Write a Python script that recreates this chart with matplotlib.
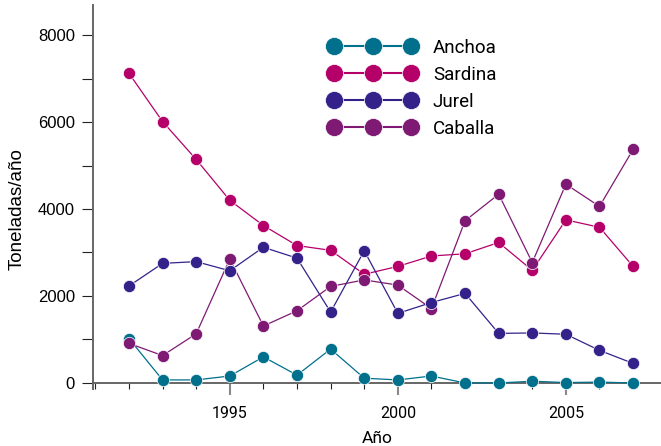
import numpy as np
import matplotlib
matplotlib.use('Agg')
import matplotlib.pyplot as plt
from matplotlib.ticker import MultipleLocator

# data (toneladas / año)
years = list(range(1992, 2008))
anchoa = [1020, 70, 70, 160, 600, 180, 780, 110, 70, 160, 0, 0, 40, 10, 20, 0]
sardina = [7120, 6010, 5140, 4200, 3620, 3160, 3050, 2500, 2680, 2920, 2970, 3230, 2590, 3750, 3580, 2680]
jurel = [2230, 2750, 2790, 2580, 3120, 2870, 1630, 3040, 1600, 1850, 2060, 1140, 1150, 1120, 750, 450]
caballa = [910, 630, 1130, 2850, 1310, 1660, 2220, 2370, 2250, 1710, 3730, 4340, 2770, 4570, 4060, 5370]

names = ['Anchoa', 'Sardina', 'Jurel', 'Caballa']
colors = ['#00708c', '#b5006a', '#34228a', '#7e1a74']
series = [anchoa, sardina, jurel, caballa]
zorders = [3, 4, 6, 5]

plt.rcParams['font.family'] = ['Liberation Sans', 'DejaVu Sans']

fig = plt.figure(figsize=(6.61, 4.46), dpi=100)
ax = fig.add_axes([0.1407, 0.1267, 0.8593, 0.862])

for name, vals, c, z in zip(names, series, colors, zorders):
    ax.plot(years, vals, color=c, lw=0.9, marker='o', ms=8.8,
            mfc=c, mec='white', mew=0.5, label=name, zorder=z)

ax.set_xlim(1990.93, 2007.83)
ax.set_ylim(-150, 8690)

# axis styling
for s in ['top', 'right']:
    ax.spines[s].set_visible(False)
ax.spines['bottom'].set_position(('data', 0))
ax.spines['bottom'].set_color('#666666')
ax.spines['left'].set_color('#666666')
ax.spines['bottom'].set_linewidth(1.4)
ax.spines['left'].set_linewidth(1.4)

ax.xaxis.set_major_locator(MultipleLocator(5))
ax.xaxis.set_minor_locator(MultipleLocator(1))
ax.yaxis.set_major_locator(MultipleLocator(2000))
ax.yaxis.set_minor_locator(MultipleLocator(1000))

ax.tick_params(axis='x', which='major', length=8.6, width=1.5, color='#888888',
               labelsize=11.5, pad=8)
ax.tick_params(axis='x', which='minor', length=4.3, width=0.8, color='#222222')
ax.tick_params(axis='y', which='both', length=8, width=0.8, color='#222222',
               labelsize=12, pad=5)
for lab in ax.get_xticklabels():
    lab.set_family(['Roboto', 'DejaVu Sans'])

ax.set_xlabel('Año', fontsize=12.5, family=['Roboto', 'DejaVu Sans'], labelpad=7)
ax.set_ylabel('Toneladas/año', fontsize=13.5)
ax.yaxis.set_label_coords(-0.118, (4000 + 150) / 8840)

leg = ax.legend(loc='upper left', bbox_to_anchor=(0.384, 0.956), frameon=False,
                numpoints=3, markerscale=1.48, handlelength=4.75,
                handletextpad=0.85, labelspacing=0.48,
                prop={'family': ['Roboto', 'DejaVu Sans'], 'size': 13.5})
for h in leg.get_lines():
    h.set_linewidth(1.5)

fig.savefig('out.png', dpi=100)
